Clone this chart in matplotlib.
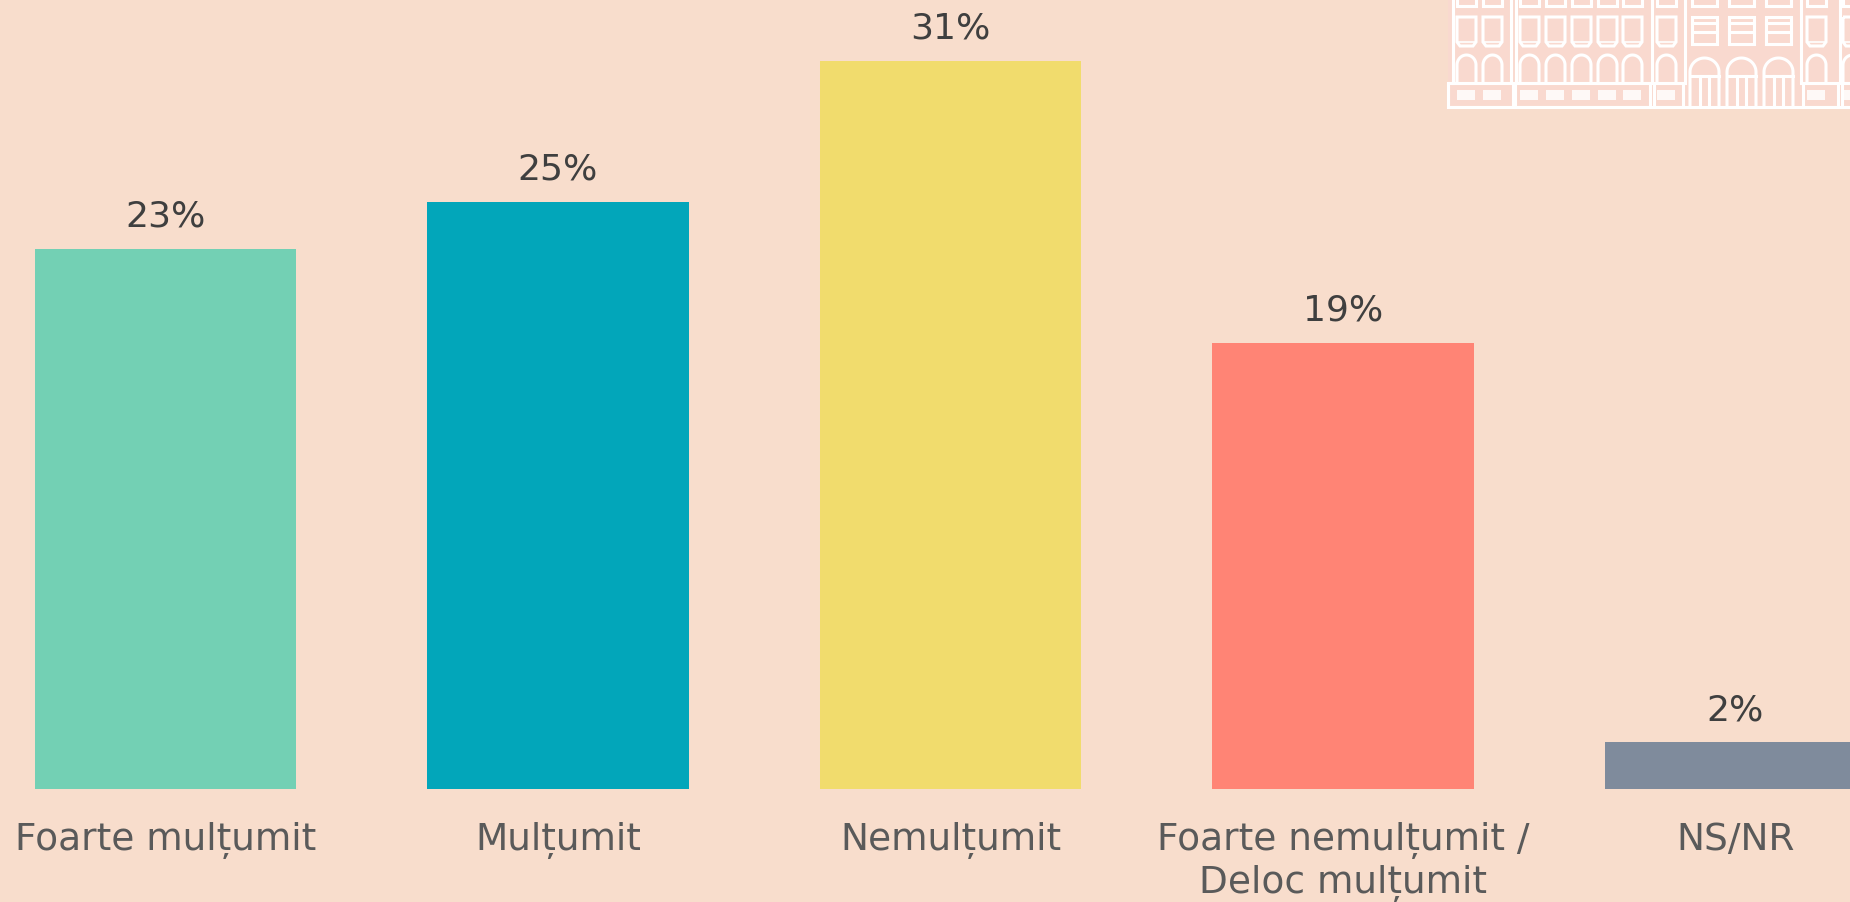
import numpy as np
import matplotlib.pyplot as plt
from matplotlib.patches import Rectangle, Polygon

categories = ['Foarte mulțumit', 'Mulțumit', 'Nemulțumit',
              'Foarte nemulțumit /\nDeloc mulțumit', 'NS/NR']
values = [23, 25, 31, 19, 2]
colors = ['#73D0B4', '#02A6BA', '#F1DC6D', '#FF8475', '#7F8B9C']

bg = '#F8DDCC'
W, H = 1850, 902

fig = plt.figure(figsize=(W / 100, H / 100), dpi=100, facecolor=bg)
ax = fig.add_axes([0, 113 / H, 1, 789 / H])
ax.set_facecolor(bg)

x = np.arange(len(categories))
ax.bar(x, values, width=0.667, color=colors, zorder=2)
for xi, v in zip(x, values):
    ax.annotate(f'{v}%', (xi, v), xytext=(0, 15.5), textcoords='offset points',
                ha='center', va='baseline', fontsize=26, color='#3F3F3F')

ax.set_xlim(-0.4217, 4.2917)
ax.set_ylim(0, 789 / 23.5)
ax.set_xticks(x)
ax.set_xticklabels(categories, fontsize=27, color='#5A5A5A', linespacing=1.22)
ax.tick_params(axis='x', length=0, pad=24)
ax.set_yticks([])
for s in ax.spines.values():
    s.set_visible(False)

# building logo, top right (pixel coordinates)
lg = fig.add_axes([0, 0, 1, 1], zorder=5)
lg.set_xlim(0, W)
lg.set_ylim(H, 0)
lg.axis('off')
lg.patch.set_alpha(0)
lw = 2.2
wc = 'white'

lg.add_patch(Rectangle((1448, -5), 420, 112, facecolor='#F9D9CF', edgecolor='none'))
lg.plot([1448, 1860], [107, 107], color=wc, lw=lw)
lg.plot([1448, 1448], [83, 107], color=wc, lw=lw)

for px in [1453, 1511, 1516, 1652, 1685, 1801, 1840]:
    lg.plot([px, px], [-5, 83], color=wc, lw=lw)

for x0, x1 in [(1448, 1513), (1515, 1650), (1654, 1683), (1803, 1838), (1842, 1860)]:
    lg.add_patch(Rectangle((x0, 83), x1 - x0, 24, fill=False, edgecolor=wc, lw=lw))

narrow = [1457, 1483, 1520, 1546, 1572, 1598, 1623, 1657, 1807, 1843]
wide = [1692, 1729, 1766]

t = np.linspace(0, np.pi, 30)
for wx in narrow:
    w = 19
    lg.add_patch(Rectangle((wx, -8), w, 14, fill=False, edgecolor=wc, lw=lw))
    lg.add_patch(Polygon([(wx, 17), (wx + w, 17), (wx + w, 42), (wx + w - 3, 46),
                          (wx + 3, 46), (wx, 42)], closed=True, fill=False,
                         edgecolor=wc, lw=lw))
    lg.plot([wx, wx + w], [42, 42], color=wc, lw=1.2)
    cx, r = wx + w / 2, w / 2
    arc = np.column_stack([cx - r * np.cos(t), 65 - 10 * np.sin(t)])
    arch = np.vstack([[wx, 82], arc, [wx + w, 82]])
    lg.plot(arch[:, 0], arch[:, 1], color=wc, lw=lw)
    lg.add_patch(Rectangle((wx, 90), w - 1, 10, facecolor=wc, edgecolor='none', alpha=0.85))

for wx in wide:
    w = 25
    lg.add_patch(Rectangle((wx, -8), w, 14, fill=False, edgecolor=wc, lw=lw))
    lg.add_patch(Rectangle((wx, 17), w, 27, fill=False, edgecolor=wc, lw=lw))
    lg.plot([wx, wx + w], [23, 23], color=wc, lw=lw)
    lg.plot([wx, wx + w], [32, 32], color=wc, lw=lw)
    dx0, dw = wx - 2, 29
    cx, r = dx0 + dw / 2, dw / 2
    arc = np.column_stack([cx - r * np.cos(t), 72 - 14 * np.sin(t)])
    door = np.vstack([[dx0, 107], [dx0, 72], arc, [dx0 + dw, 72], [dx0 + dw, 107]])
    lg.plot(door[:, 0], door[:, 1], color=wc, lw=lw)
    lg.plot([dx0, dx0 + dw], [76, 76], color=wc, lw=lw)
    for bx in [dx0 + 10, dx0 + 19]:
        lg.plot([bx, bx], [76, 107], color=wc, lw=lw)

fig.savefig('out.png', dpi=100, facecolor=bg)
